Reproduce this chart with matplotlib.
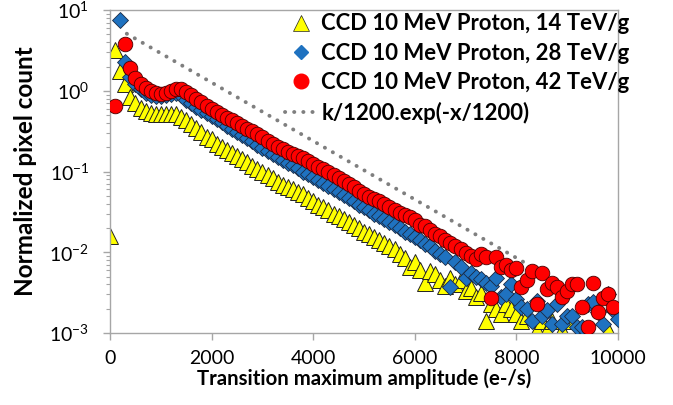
import numpy as np
import matplotlib
matplotlib.use("Agg")
import matplotlib.pyplot as plt
from matplotlib.lines import Line2D

nan = float("nan")

# x bins (e-/s)
x_bins = list(range(0, 10001, 100))

# CCD 10 MeV Proton, 14 TeV/g  (yellow triangles)
y_14 = [0.016, 3.2, 1.75, 1.2, 0.85, 0.70, 0.61, 0.56, 0.53, 0.52,
        0.52, 0.52, 0.52, 0.51, 0.48, 0.43, 0.39, 0.35, 0.31, 0.27,
        0.25, 0.22, 0.20, 0.185, 0.17, 0.155, 0.143, 0.13, 0.118, 0.108,
        0.098, 0.090, 0.082, 0.075, 0.068, 0.064, 0.060, 0.056, 0.052, 0.047,
        0.043, 0.039, 0.036, 0.033, 0.030, 0.028, 0.026, 0.024, 0.022, 0.020,
        0.018, 0.017, 0.0155, 0.014, 0.013, 0.012, 0.011, 0.0094, 0.0085, 0.0066,
        0.0075, 0.0060, 0.0042, 0.0058, 0.0054, 0.0045, 0.0038, 0.0048, 0.0040, 0.0045,
        0.0033, 0.0036, 0.0028, 0.0031, 0.0014, 0.0023, 0.0020, 0.0017, 0.0023, 0.0020,
        0.0017, 0.0014, 0.0016, nan, 0.0011, 0.0014, 0.0011, 0.0014, nan, 0.0011,
        nan, 0.0014, nan, nan, 0.0011, nan, nan, nan, 0.0011, nan,
        nan]

# CCD 10 MeV Proton, 28 TeV/g  (blue diamonds)
y_28 = [nan, nan, 7.5, 2.3, 1.5, 1.2, 1.05, 0.95, 0.90, 0.87,
        0.86, 0.88, 0.92, 0.95, 0.90, 0.78, 0.70, 0.63, 0.58, 0.53,
        0.49, 0.45, 0.41, 0.37, 0.34, 0.31, 0.28, 0.26, 0.24, 0.215,
        0.195, 0.178, 0.165, 0.150, 0.140, 0.128, 0.120, 0.110, 0.100, 0.093,
        0.086, 0.079, 0.073, 0.066, 0.061, 0.056, 0.051, 0.047, 0.043, 0.039,
        0.036, 0.033, 0.030, 0.028, 0.026, 0.024, 0.022, 0.020, 0.018, 0.017,
        0.0155, 0.014, 0.0128, 0.0118, 0.0105, 0.0095, 0.0088, 0.0037, 0.0075, 0.0066,
        0.0048, 0.0055, 0.0050, 0.0046, 0.0042, 0.0038, 0.0048, 0.0028, 0.0030, 0.0040,
        0.0026, 0.0021, 0.0020, 0.0014, 0.0025, 0.0016, 0.0019, 0.0013, 0.0023, 0.0013,
        0.0016, 0.0016, 0.0012, 0.0012, 0.0023, 0.0024, 0.0018, 0.0013, 0.0030, 0.0019,
        0.0015]

# CCD 10 MeV Proton, 42 TeV/g  (red circles)
y_42 = [nan, 0.65, nan, 3.8, 1.9, 1.45, 1.2, 1.08, 1.0, 0.95,
        0.92, 0.95, 1.0, 1.05, 1.05, 0.97, 0.88, 0.80, 0.72, 0.64,
        0.59, 0.54, 0.50, 0.46, 0.43, 0.40, 0.37, 0.34, 0.32, 0.29,
        0.27, 0.24, 0.22, 0.20, 0.19, 0.175, 0.165, 0.155, 0.146, 0.135,
        0.125, 0.115, 0.107, 0.098, 0.090, 0.083, 0.077, 0.070, 0.064, 0.058,
        0.053, 0.049, 0.046, 0.043, 0.040, 0.036, 0.033, 0.031, 0.029, 0.027,
        0.025, 0.022, 0.021, 0.019, 0.017, 0.016, 0.014, 0.013, 0.012, 0.011,
        0.0098, 0.0090, 0.0083, 0.0095, 0.0088, 0.0027, 0.0088, 0.0065, 0.0070, 0.0060,
        0.0064, 0.0037, 0.0045, 0.0058, 0.0023, 0.0055, 0.0035, 0.0042, 0.0037, 0.0028,
        0.0033, 0.0040, 0.0040, 0.0021, 0.0012, 0.0041, 0.0018, 0.0027, 0.0030, 0.0021,
        nan]

# reference curve k/1200.exp(-x/1200): end points of the straight (log) line
fit_x = [330, 8250]
fit_y = [5.1, 0.0069]

labels = ["CCD 10 MeV Proton, 14 TeV/g",
          "CCD 10 MeV Proton, 28 TeV/g",
          "CCD 10 MeV Proton, 42 TeV/g",
          "k/1200.exp(-x/1200)"]

plt.rcParams['font.family'] = ['Lato', 'DejaVu Sans']

fig = plt.figure(figsize=(6.73, 4.05), dpi=100)
ax = fig.add_axes([0.1635, 0.178, 0.7548, 0.797])

ax.plot(fit_x, fit_y, color="#7f7f7f", lw=2.8, linestyle=(0, (0.05, 2.3)),
        dash_capstyle="round", zorder=4)
ax.plot(x_bins, y_14, linestyle="none", marker="^", markersize=11,
        markerfacecolor="#ffff00", markeredgecolor="#222222", markeredgewidth=0.7, zorder=2)
ax.plot(x_bins, y_28, linestyle="none", marker="D", markersize=8,
        markerfacecolor="#1f72c0", markeredgecolor="#1a2a44", markeredgewidth=0.6, zorder=3)
ax.plot(x_bins, y_42, linestyle="none", marker="o", markersize=10.5,
        markerfacecolor="#ff0000", markeredgecolor="#4a0000", markeredgewidth=0.6, zorder=3.5)

ax.set_yscale("log")
ax.set_xlim(0, 10000)
ax.set_ylim(1e-3, 10)
ax.set_xticks([0, 2000, 4000, 6000, 8000, 10000])

for s in ax.spines.values():
    s.set_color("#a6a6a6")
    s.set_linewidth(1.0)
ax.tick_params(axis="x", which="major", direction="out", length=5, width=1,
               color="#a6a6a6", labelsize=14, pad=7)
ax.tick_params(axis="y", which="major", direction="out", length=5, width=1,
               color="#a6a6a6", labelsize=14, pad=10)
ax.tick_params(axis="y", which="minor", direction="out", length=3, width=0.8,
               color="#a6a6a6")

ax.set_xlabel("Transition maximum amplitude (e-/s)", fontsize=14.7, fontweight="bold", labelpad=1)
ax.set_ylabel("Normalized pixel count", fontsize=17.5, fontweight="bold", labelpad=9)

handles = [
    Line2D([], [], linestyle="none", marker="^", markersize=11,
           markerfacecolor="#ffff00", markeredgecolor="#222222", markeredgewidth=0.5),
    Line2D([], [], linestyle="none", marker="D", markersize=7,
           markerfacecolor="#1f72c0", markeredgecolor="#1f72c0"),
    Line2D([], [], linestyle="none", marker="o", markersize=10.5,
           markerfacecolor="#ff0000", markeredgecolor="#ff0000"),
    Line2D([], [], color="#7f7f7f", lw=2.8, linestyle=(0, (0.05, 2.3)), dash_capstyle="round"),
]
leg = ax.legend(handles, labels, loc="upper left", bbox_to_anchor=(0.344, 0.99),
                frameon=False, borderaxespad=0.0, borderpad=0.0,
                handlelength=1.45, handletextpad=0.2, labelspacing=0.38,
                prop={"size": 15.9, "weight": "bold"})

fig.savefig("out.png", dpi=100)
